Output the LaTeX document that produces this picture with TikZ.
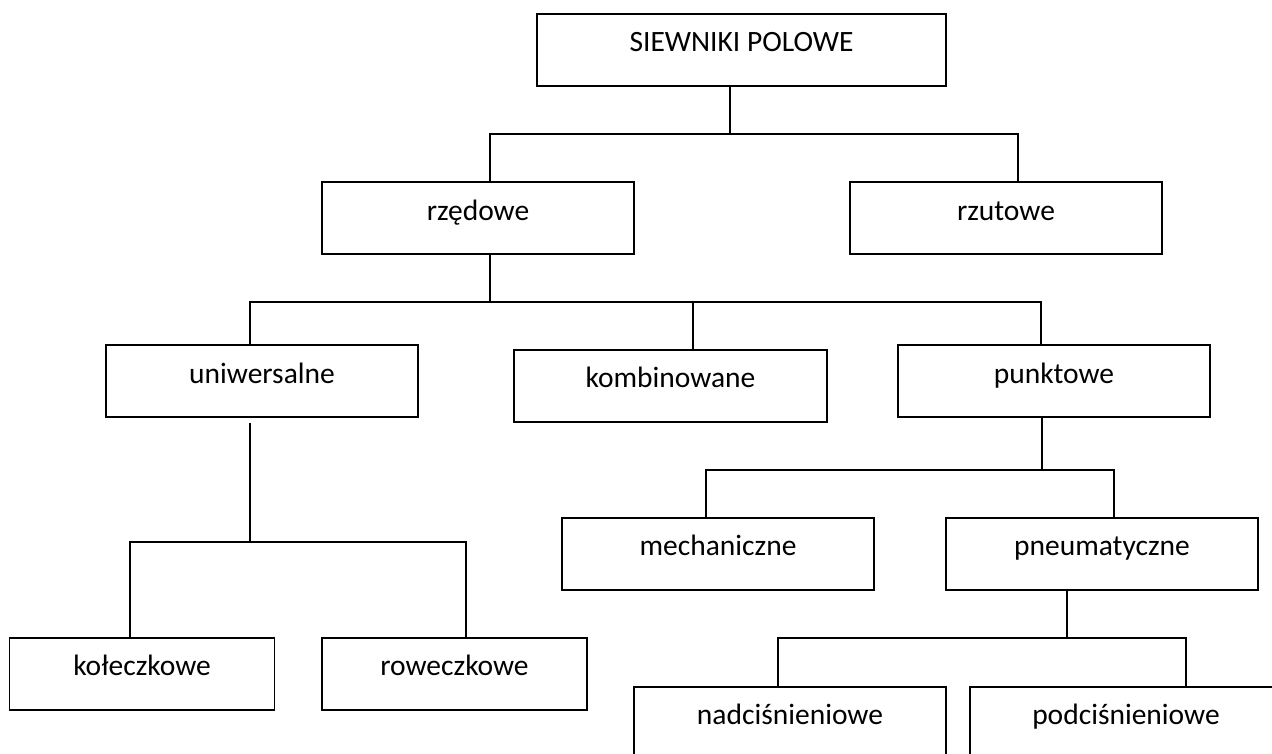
\documentclass[tikz,border=0pt]{standalone}
\usepackage{fontspec}
\setmainfont{Carlito}
\usetikzlibrary{calc}
\tikzset{
  box/.style={draw=black, line width=1.8pt, rectangle, inner sep=0pt, minimum height=72pt},
  wide/.style={box, minimum width=312pt},
  narrow/.style={box, minimum width=265pt},
  lbl/.style={inner sep=0pt, font=\fontsize{29.5pt}{34pt}\selectfont, anchor=base},
  conn/.style={line width=1.8pt, line cap=rect}
}
\begin{document}
\begin{tikzpicture}[x=1pt,y=-1pt]
\useasboundingbox (0,0) rectangle (1272,754);
\clip (0,0) rectangle (1272,754);
\fill[white] (0,0) rectangle (1272,754);

% boxes
\node[box, minimum width=409pt] (siew) at (741.5,50) {};
\node[wide] (rzed) at (478,218) {};
\node[wide] (rzut) at (1006,218) {};
\node[wide] (uniw) at (262,381) {};
\node[wide, minimum width=313pt] (komb) at (670.5,386) {};
\node[wide] (punk) at (1054,381) {};
\node[wide] (mech) at (718,554) {};
\node[wide] (pneu) at (1102,554) {};
\node[narrow] (kol) at (142,674) {};
\node[narrow] (row) at (454.5,674) {};
\node[wide] (nadc) at (790,723) {};
\node[wide] (podc) at (1126,723) {};

% labels
\node[lbl] (siewt) at ([yshift=-38pt]siew.north) {SIEWNIKI POLOWE};
\node[lbl] (rzedt) at ([yshift=-39pt]rzed.north) {rzędowe};
\node[lbl] (rzutt) at ([yshift=-39pt]rzut.north) {rzutowe};
\node[lbl] (uniwt) at ([yshift=-39pt]uniw.north) {uniwersalne};
\node[lbl] (kombt) at ([yshift=-38pt]komb.north) {kombinowane};
\node[lbl] (punkt) at ([yshift=-39pt]punk.north) {punktowe};
\node[lbl] (mecht) at ([yshift=-38pt]mech.north) {mechaniczne};
\node[lbl] (pneut) at ([yshift=-38pt]pneu.north) {pneumatyczne};
\node[lbl] (kolt) at ([yshift=-38pt]kol.north) {kołeczkowe};
\node[lbl] (rowt) at ([yshift=-38pt]row.north) {roweczkowe};
\node[lbl] (nadct) at ([yshift=-38pt]nadc.north) {nadciśnieniowe};
\node[lbl] (podct) at ([yshift=-38pt]podc.north) {podciśnieniowe};

% junctions
\coordinate (j1) at (730,134);
\coordinate (j2) at (490,302);
\coordinate (j2b) at (693,302);
\coordinate (j3) at (250,542);
\coordinate (j4) at (1042,470);
\coordinate (j5) at (1067,638);

% connectors
\draw[conn] (j1 |- siew.south) -- (j1) -| ([xshift=12pt]rzed.north);
\draw[conn] (j1) -| ([xshift=12pt]rzut.north);

\draw[conn] (j2 |- rzed.south) -- (j2) -| ([xshift=-12pt]uniw.north);
\draw[conn] (j2) -| (j2b |- komb.north);
\draw[conn] (j2b) -| ([xshift=-13pt]punk.north);

\draw[conn] ([yshift=-6pt]j3 |- uniw.south) -- (j3) -| ([xshift=-12pt]kol.north);
\draw[conn] (j3) -| ([xshift=11.5pt]row.north);

\draw[conn] (j4 |- punk.south) -- (j4) -| ([xshift=-12pt]mech.north);
\draw[conn] (j4) -| ([xshift=12pt]pneu.north);

\draw[conn] (j5 |- pneu.south) -- (j5) -| ([xshift=-12pt]nadc.north);
\draw[conn] (j5) -| ([xshift=60pt]podc.north);
\end{tikzpicture}
\end{document}
